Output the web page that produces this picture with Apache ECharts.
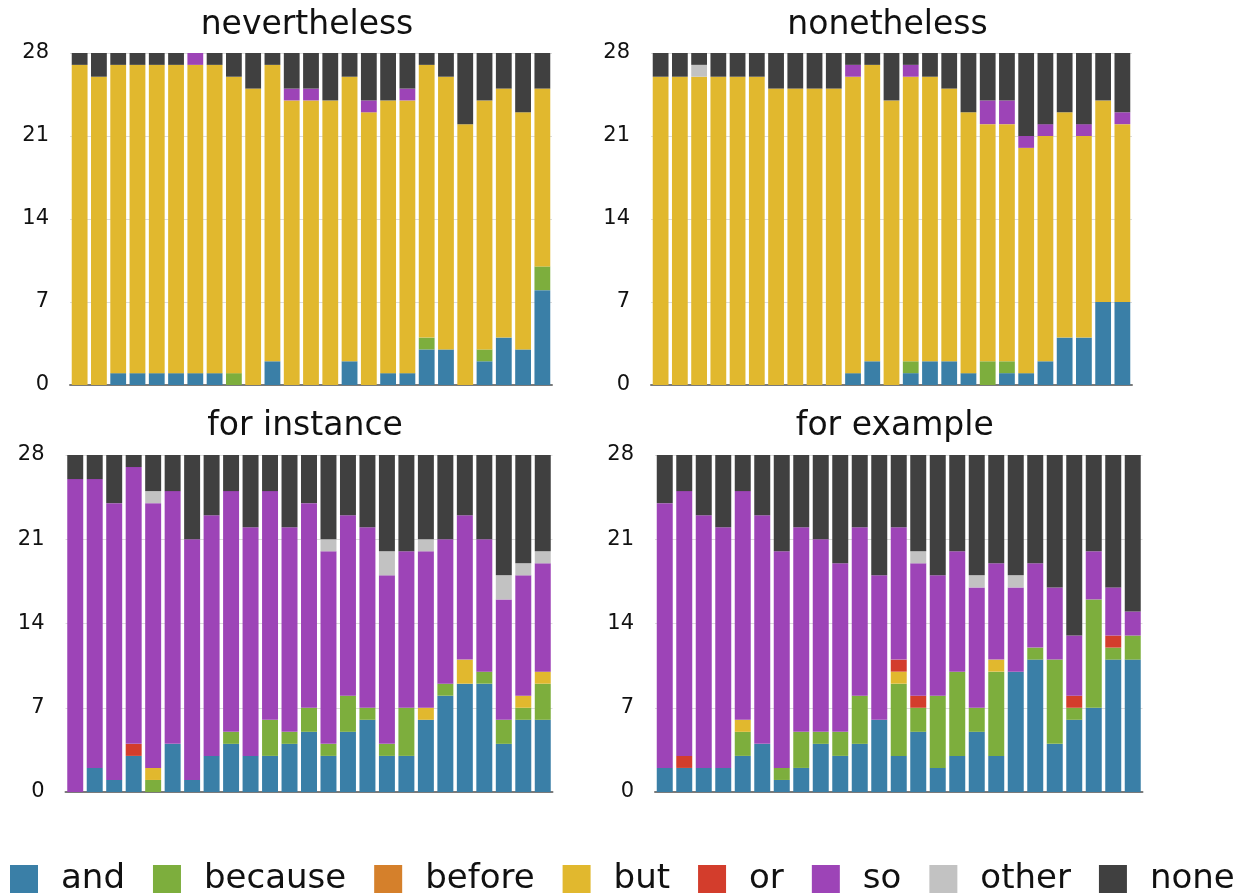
<!DOCTYPE html>
<html><head><meta charset="utf-8">
<script src="https://cdn.jsdelivr.net/npm/echarts@6/dist/echarts.min.js"></script>
<style>html,body{margin:0;padding:0;background:#fff}#c{width:1236px;height:896px}</style>
</head><body><div id="c"></div>
<script>
// ---- categories / labels ----
const connectives = ['and','because','before','but','or','so','other','none'];
const connectiveColors = ['#3A7FA7','#7DAE3D','#D5802B','#E1B82E','#D33D2C','#9D44B7','#C2C2C2','#404040'];
const panelTitles = ['nevertheless','nonetheless','for instance','for example'];
const items = ['1','2','3','4','5','6','7','8','9','10','11','12','13','14','15','16','17','18','19','20','21','22','23','24','25'];
const yMin = 0, yMax = 28, yStep = 7;

// ---- nevertheless ----
const neverthelessAnd     = [0,0,1,1,1,1,1,1,0,0,2,0,0,0,2,0,1,1,3,3,0,2,4,3,8];
const neverthelessBecause = [0,0,0,0,0,0,0,0,1,0,0,0,0,0,0,0,0,0,1,0,0,1,0,0,2];
const neverthelessBut     = [27,26,26,26,26,26,26,26,25,25,25,24,24,24,24,23,23,23,23,23,22,21,21,20,15];
const neverthelessSo      = [0,0,0,0,0,0,1,0,0,0,0,1,1,0,0,1,0,1,0,0,0,0,0,0,0];
const neverthelessNone    = [1,2,1,1,1,1,0,1,2,3,1,3,3,4,2,4,4,3,1,2,6,4,3,5,3];

// ---- nonetheless ----
const nonethelessAnd     = [0,0,0,0,0,0,0,0,0,0,1,2,0,1,2,2,1,0,1,1,2,4,4,7,7];
const nonethelessBecause = [0,0,0,0,0,0,0,0,0,0,0,0,0,1,0,0,0,2,1,0,0,0,0,0,0];
const nonethelessBut     = [26,26,26,26,26,26,25,25,25,25,25,25,24,24,24,23,22,20,20,19,19,19,17,17,15];
const nonethelessSo      = [0,0,0,0,0,0,0,0,0,0,1,0,0,1,0,0,0,2,2,1,1,0,1,0,1];
const nonethelessOther   = [0,0,1,0,0,0,0,0,0,0,0,0,0,0,0,0,0,0,0,0,0,0,0,0,0];
const nonethelessNone    = [2,2,1,2,2,2,3,3,3,3,1,1,4,1,2,3,5,4,4,7,6,5,6,4,5];

// ---- for instance ----
const forInstanceAnd     = [0,2,1,3,0,4,1,3,4,3,3,4,5,3,5,6,3,3,6,8,9,9,4,6,6];
const forInstanceBecause = [0,0,0,0,1,0,0,0,1,0,3,1,2,1,3,1,1,4,0,1,0,1,2,1,3];
const forInstanceBut     = [0,0,0,0,1,0,0,0,0,0,0,0,0,0,0,0,0,0,1,0,2,0,0,1,1];
const forInstanceOr      = [0,0,0,1,0,0,0,0,0,0,0,0,0,0,0,0,0,0,0,0,0,0,0,0,0];
const forInstanceSo      = [26,24,23,23,22,21,20,20,20,19,19,17,17,16,15,15,14,13,13,12,12,11,10,10,9];
const forInstanceOther   = [0,0,0,0,1,0,0,0,0,0,0,0,0,1,0,0,2,0,1,0,0,0,2,1,1];
const forInstanceNone    = [2,2,4,1,3,3,7,5,3,6,3,6,4,7,5,6,8,8,7,7,5,7,10,9,8];

// ---- for example ----
const forExampleAnd     = [2,2,2,2,3,4,1,2,4,3,4,6,3,5,2,3,5,3,10,11,4,6,7,11,11];
const forExampleBecause = [0,0,0,0,2,0,1,3,1,2,4,0,6,2,6,7,2,7,0,1,7,1,9,1,2];
const forExampleBut     = [0,0,0,0,1,0,0,0,0,0,0,0,1,0,0,0,0,1,0,0,0,0,0,0,0];
const forExampleOr      = [0,1,0,0,0,0,0,0,0,0,0,0,1,1,0,0,0,0,0,0,0,1,0,1,0];
const forExampleSo      = [22,22,21,20,19,19,18,17,16,14,14,12,11,11,10,10,10,8,7,7,6,5,4,4,2];
const forExampleOther   = [0,0,0,0,0,0,0,0,0,0,0,0,0,1,0,0,1,0,1,0,0,0,0,0,0];
const forExampleNone    = [4,3,5,6,3,5,8,6,7,9,6,10,6,8,10,8,10,9,10,9,11,15,8,11,13];

const panelData = [
  {and: neverthelessAnd, because: neverthelessBecause, but: neverthelessBut, so: neverthelessSo, none: neverthelessNone},
  {and: nonethelessAnd, because: nonethelessBecause, but: nonethelessBut, so: nonethelessSo, other: nonethelessOther, none: nonethelessNone},
  {and: forInstanceAnd, because: forInstanceBecause, but: forInstanceBut, or: forInstanceOr, so: forInstanceSo, other: forInstanceOther, none: forInstanceNone},
  {and: forExampleAnd, because: forExampleBecause, but: forExampleBut, or: forExampleOr, so: forExampleSo, other: forExampleOther, none: forExampleNone}
];

// ---- layout ----
const grids = [
  {left: 70, top: 53, width: 482, height: 332},
  {left: 651, top: 53, width: 481, height: 332},
  {left: 65.5, top: 455, width: 487, height: 337},
  {left: 655, top: 455, width: 487.5, height: 337}
];
const titleTops = [9, 9, 410, 410];
const FONT = 'DejaVu Sans';

const chart = echarts.init(document.getElementById('c'), null, {renderer: 'canvas'});

const option = {
  animation: false,
  backgroundColor: '#ffffff',
  title: panelTitles.map((t, i) => ({
    text: t,
    left: grids[i].left + grids[i].width / 2 - 4,
    top: titleTops[i],
    textAlign: 'center',
    padding: 0,
    textStyle: {fontFamily: FONT, fontSize: 33, fontWeight: 'normal', color: '#111'}
  })),
  legend: {
    data: connectives,
    left: 10,
    top: 862,
    icon: 'rect',
    itemWidth: 28,
    itemHeight: 28,
    itemGap: 28,
    selectedMode: false,
    padding: 0,
    textStyle: {fontFamily: FONT, fontSize: 34, color: '#111', padding: [0, 0, 0, 18]}
  },
  grid: grids.map(g => Object.assign({containLabel: false}, g)),
  xAxis: grids.map((g, i) => ({
    type: 'category',
    gridIndex: i,
    data: items,
    axisLabel: {show: false},
    axisTick: {show: false},
    axisLine: {show: true, lineStyle: {color: '#7a7a7a', width: 2}},
    splitLine: {show: false}
  })),
  yAxis: grids.map((g, i) => ({
    type: 'value',
    gridIndex: i,
    min: yMin, max: yMax, interval: yStep,
    axisLine: {show: false},
    axisTick: {show: false},
    axisLabel: {fontFamily: FONT, fontSize: 21, color: '#111', margin: 21},
    splitLine: {show: true, lineStyle: {color: '#dcdcdc', width: 1}}
  })),
  series: []
};

panelData.forEach((pd, p) => {
  connectives.forEach((c, k) => {
    option.series.push({
      type: 'bar',
      name: c,
      stack: 'panel' + p,
      xAxisIndex: p,
      yAxisIndex: p,
      data: pd[c] || [],
      barCategoryGap: '18%',
      itemStyle: {color: connectiveColors[k]},
      emphasis: {disabled: true},
      silent: true
    });
  });
});

chart.setOption(option);
</script>
</body></html>
